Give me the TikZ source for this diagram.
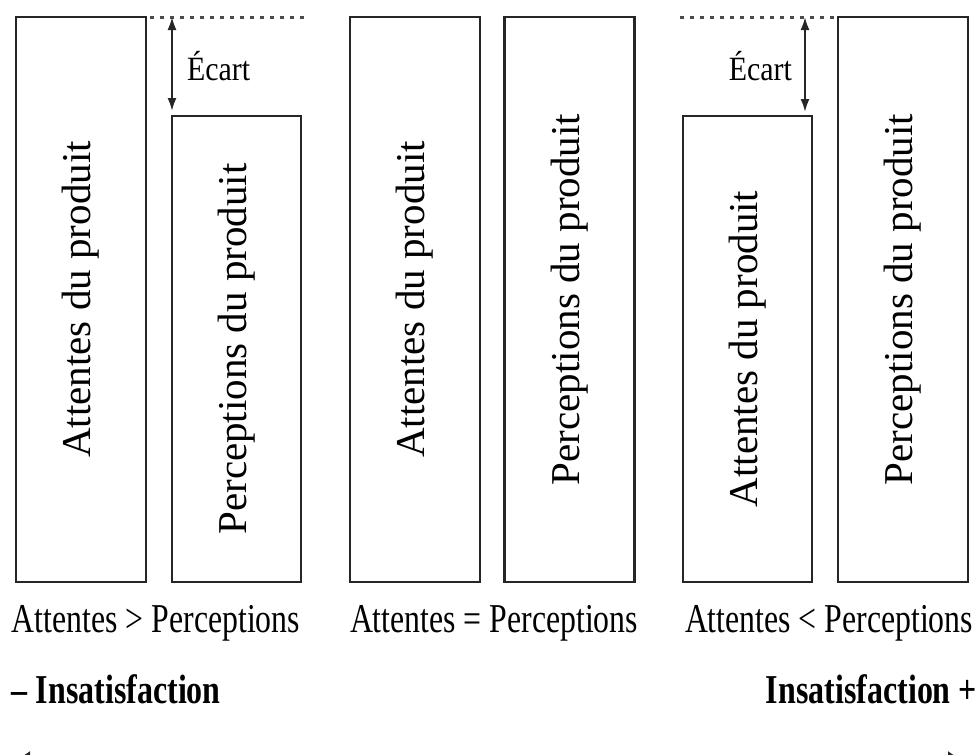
\documentclass[tikz,border=0pt]{standalone}
\usepackage{fontspec}
\usepackage{graphicx}
\setmainfont{Liberation Serif}
\usetikzlibrary{arrows.meta}

% narrow horizontal lettering
\newcommand{\narrowtxt}[2]{\scalebox{#1}[1]{#2}}

\begin{document}
\begin{tikzpicture}[x=1pt,y=-1pt,
  every node/.style={inner sep=0pt,outer sep=0pt},
  bar/.style={draw=black!85,line width=2.6pt,fill=white},
  tall/.style={bar,minimum width=130pt,minimum height=565pt},
  short/.style={bar,minimum width=129pt,minimum height=466pt},
  vlabel/.style={font=\fontsize{41}{49}\selectfont},
  caption/.style={font=\fontsize{41}{49}\selectfont,anchor=base west},
  verdict/.style={font=\fontsize{41}{49}\selectfont\bfseries},
  gaplabel/.style={font=\fontsize{34}{40}\selectfont},
  gaparrow/.style={{Latex[length=13pt,width=9pt]}-{Latex[length=13pt,width=9pt]},line width=2pt,draw=black!85},
  level/.style={draw=black!70,line width=3pt,dash pattern=on 4pt off 6pt},
  axis/.style={{Latex[length=22pt,width=24pt]}-{Latex[length=22pt,width=24pt]},line width=2pt,draw=black!85}
]
\useasboundingbox (0,0) rectangle (978,755);

% left group: expectations above perceptions
\node[tall]  (a1) at (81,299.5)   {\rotatebox{90}{\fontsize{41}{49}\selectfont Attentes du produit}};
\node[short] (p1) at (236.5,349)  {\rotatebox{90}{\fontsize{41}{49}\selectfont Perceptions du produit}};

% middle group: equal levels
\node[tall]  (a2) at (415,299.5)  {\rotatebox{90}{\fontsize{41}{49}\selectfont Attentes du produit}};
\node[tall]  (p2) at (569.5,299.5){\rotatebox{90}{\fontsize{41}{49}\selectfont Perceptions du produit}};

% right group: perceptions above expectations
\node[short] (a3) at (747.5,349)  {\rotatebox{90}{\fontsize{41}{49}\selectfont Attentes du produit}};
\node[tall]  (p3) at (903,299.5)  {\rotatebox{90}{\fontsize{41}{49}\selectfont Perceptions du produit}};

% reference levels
\coordinate (l1) at (305,17);
\coordinate (l3) at (680,17);
\draw[level] ([xshift=4pt]a1.north east) -- (l1);
\draw[level] (l3) -- ([xshift=-4pt]p3.north west);

% gap arrows
\coordinate (g1) at (p1.north west |- a1.north);
\coordinate (g3) at ([xshift=-7pt]a3.north east |- p3.north);
\coordinate (g3b) at ([xshift=-7pt]a3.north east);
\draw[gaparrow,shorten >=5pt] (g1) -- (p1.north west);
\draw[gaparrow,shorten >=4pt] (g3) -- (g3b);

\node[gaplabel,anchor=base west] (e1) at (187,80) {\narrowtxt{0.88}{Écart}};
\node[gaplabel,anchor=base east] (e3) at (792,80) {\narrowtxt{0.88}{Écart}};

% comparisons
\node[caption] (c1) at (12,632)  {\narrowtxt{0.775}{Attentes > Perceptions}};
\node[caption] (c2) at (350,632) {\narrowtxt{0.775}{Attentes = Perceptions}};
\node[caption] (c3) at (685,632) {\narrowtxt{0.775}{Attentes < Perceptions}};

% scale ends
\node[verdict,anchor=base west] (v1) at (12,703)  {\narrowtxt{0.78}{– Insatisfaction}};
\node[verdict,anchor=base east] (v3) at (977,703) {\narrowtxt{0.78}{Insatisfaction +}};

% scale axis
\coordinate (s1) at (8,763);
\coordinate (s3) at (970,763);
\draw[axis] (s1) -- (s3);
\end{tikzpicture}
\end{document}
